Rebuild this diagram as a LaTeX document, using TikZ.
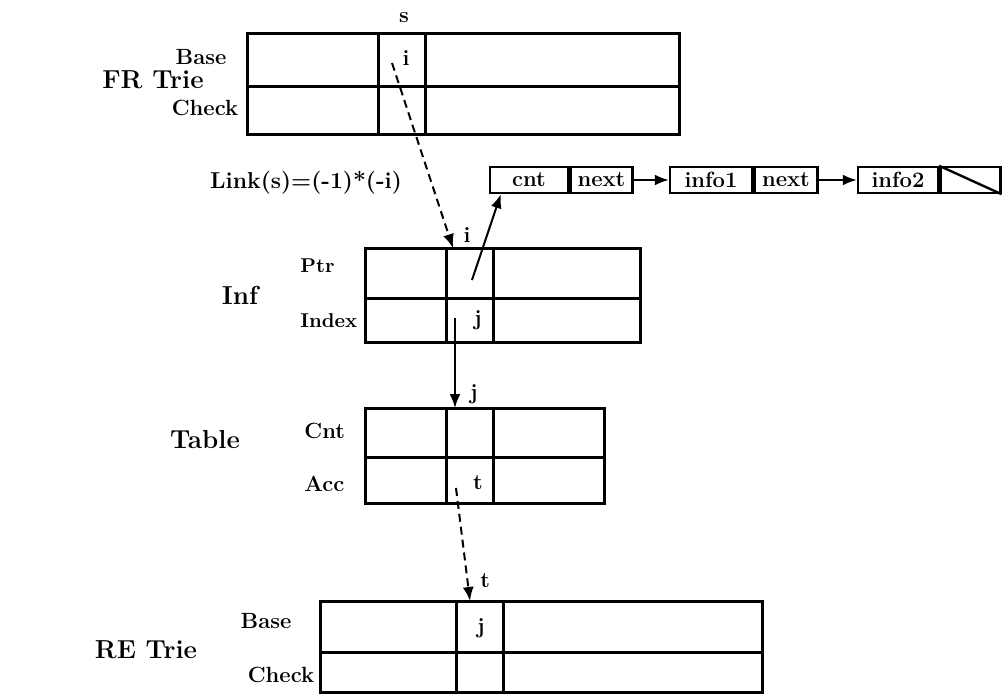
\documentclass[tikz,border=0pt]{standalone}
\usepackage{tikz}
\usetikzlibrary{arrows.meta,calc,positioning}
\tikzset{>={Latex[length=7pt,width=5.5pt]}}
\tikzset{font=\bfseries\fontsize{11}{13}\selectfont}
\tikzset{title/.style={font=\bfseries\fontsize{13}{15}\selectfont},
  rowname/.style={inner sep=1pt},
  celltext/.style={inner sep=1pt},
  listbox/.style={draw, line width=1.2pt, minimum height=13pt, inner sep=0pt},
  dashlink/.style={->, dash pattern=on 4pt off 2.5pt, line width=1pt},
  solidlink/.style={->, line width=1pt}}

\begin{document}
\begin{tikzpicture}[x=0.5pt, y=-0.5pt]
  \useasboundingbox (0,0) rectangle (1002,697);
  \begin{scope}[line width=1.5pt]
    % left / col1 / col2 / right / top / middle / bottom
    \foreach \l/\a/\b/\r/\t/\m/\u in {247/378/425/679/33/86/134,
      365/446/493/640/248/298/342, 365/446/493/604/408/457/503,
      320/456/503/762/601/652/692}
    {
      \draw (\l,\t) rectangle (\r,\u);
      \draw (\l,\m) -- (\r,\m);
      \draw (\a,\t) -- (\a,\u);
      \draw (\b,\t) -- (\b,\u);
    }
  \end{scope}

  % titles and row names
  \node[title] (frTrie) at (153,80) {FR Trie};
  \node[rowname] (frBase) at (201,57) {Base};
  \node[rowname] (frCheck) at (205,108) {Check};
  \node[title] (inf) at (240,295) {Inf};
  \node[rowname, anchor=west, font=\bfseries\fontsize{10}{12}\selectfont] (ptr) at (298,266) {Ptr};
  \node[rowname, anchor=west, font=\bfseries\fontsize{10}{12}\selectfont] (index) at (298,321) {Index};
  \node[title] (table) at (205,440) {Table};
  \node[rowname, anchor=west] (cntRow) at (302,431) {Cnt};
  \node[rowname, anchor=west] (accRow) at (302,484) {Acc};
  \node[title] (reTrie) at (146,650) {RE Trie};
  \node[rowname] (reBase) at (266,621) {Base};
  \node[rowname] (reCheck) at (281,675) {Check};

  % cell contents
  \node[celltext] (s) at (404,18) {s};
  \node[celltext] (frI) at (406,58) {i};
  \node[celltext] (infJ) at (478,320) {j};
  \node[celltext] (accT) at (478,483) {t};
  \node[celltext] (reJ) at (481,628) {j};
  \node (link) at (306,183) {\fontsize{11.5}{13}\selectfont Link(s)=(-1)*(-i)};

  % linked list
  \node[listbox, minimum width=39pt] (cnt) at (529,180) {cnt};
  \node[listbox, minimum width=31pt, right=0pt of cnt] (next1) {next};
  \node[listbox, minimum width=41pt] (info1) at (711,180) {info1};
  \node[listbox, minimum width=31.5pt, right=0pt of info1] (next2) {next};
  \node[listbox, minimum width=40pt] (info2) at (898,180) {info2};
  \node[listbox, minimum width=30pt, right=0pt of info2] (nil) {};
  \draw[line width=1.2pt] (nil.north west) -- (nil.south east);
  \draw[solidlink] (next1) -- (info1);
  \draw[solidlink] (next2) -- (info2);

  % links between the tables
  \coordinate (frOut) at (392,63);
  \coordinate (infIn) at (453,248);
  \coordinate (ptrOut) at (472,280);
  \coordinate (idxOut) at (455,318);
  \coordinate (tabIn) at (455,408);
  \coordinate (accOut) at (456,488);
  \coordinate (reIn) at (470,601);
  \draw[dashlink] (frOut) -- (infIn) node[celltext, pos=0.93, right=6pt] (infI) {i};
  \draw[solidlink] (ptrOut) -- ($(cnt.south west)+(12,0)$);
  \draw[solidlink] (idxOut) -- (tabIn) node[celltext, pos=0.85, right=6pt] (tabJ) {j};
  \draw[dashlink] (accOut) -- (reIn) node[celltext, pos=0.82, right=5pt] (reT) {t};
\end{tikzpicture}
\end{document}
